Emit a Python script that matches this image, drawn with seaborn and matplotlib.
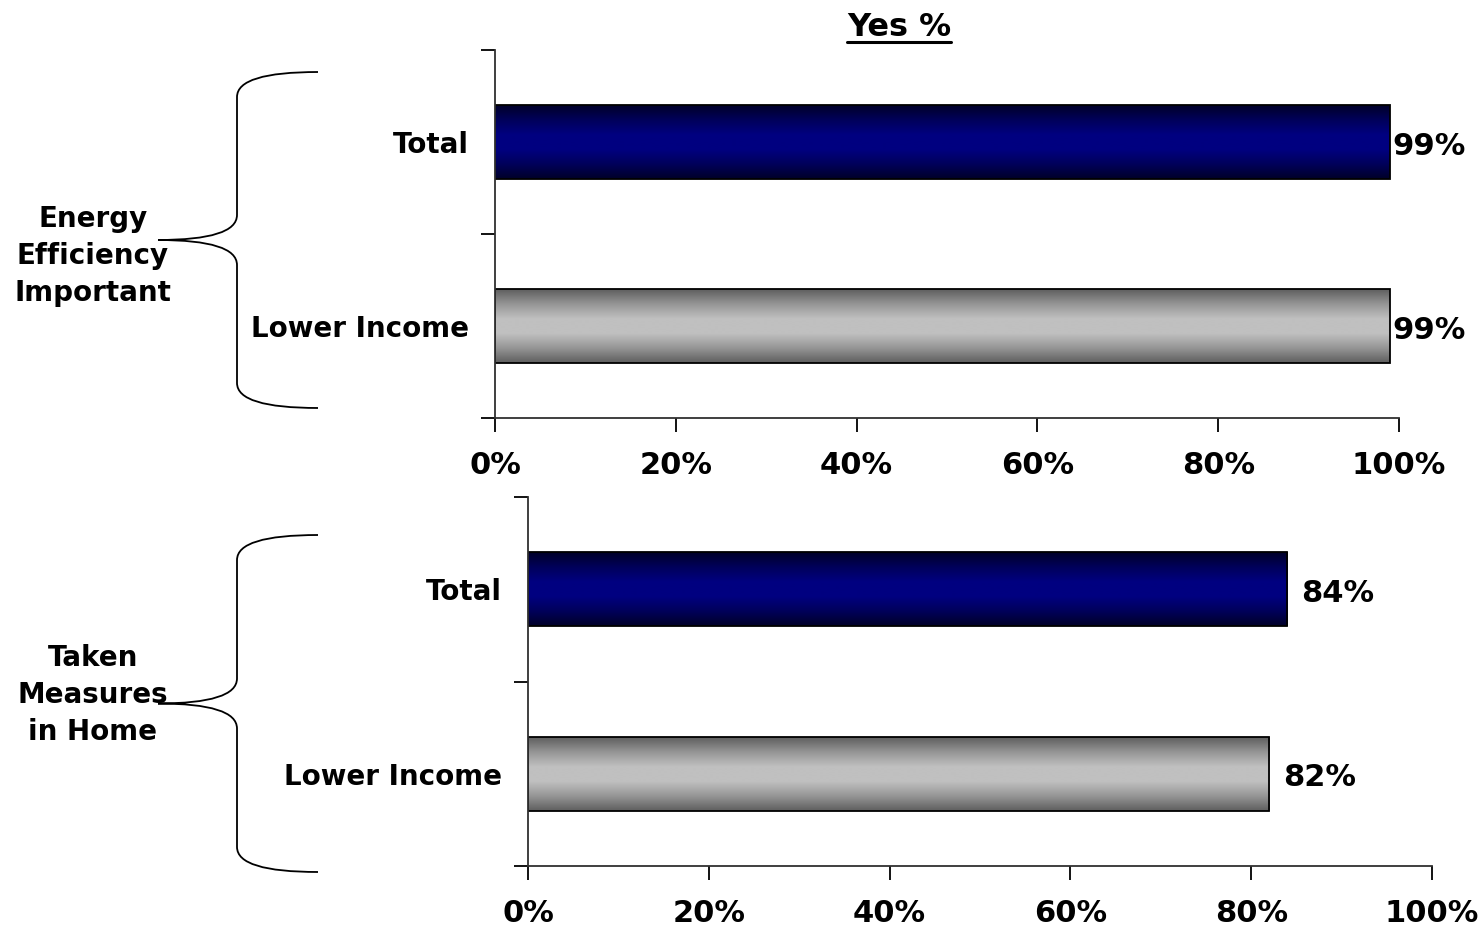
import numpy as np
import pandas as pd
import matplotlib
matplotlib.use("Agg")
import matplotlib.pyplot as plt
import seaborn as sns
from matplotlib.colors import LinearSegmentedColormap
from matplotlib.path import Path
from matplotlib.patches import PathPatch
from matplotlib.lines import Line2D

# ---- data -------------------------------------------------------------
categories = ["Total", "Lower Income"]
energy_important = [99, 99]
taken_measures = [84, 82]
group_titles = ["Energy\nEfficiency\nImportant", "Taken\nMeasures\nin Home"]
x_ticks = [0, 20, 40, 60, 80, 100]
x_tick_labels = ["0%", "20%", "40%", "60%", "80%", "100%"]
chart_title = "Yes %"

# ---- styling ----------------------------------------------------------
sns.set_style("ticks")
plt.rcParams["font.family"] = ["DejaVu Sans"]
plt.rcParams["font.weight"] = "bold"
plt.rcParams["text.color"] = "black"
plt.rcParams["xtick.color"] = "black"
plt.rcParams["ytick.color"] = "black"
plt.rcParams["xtick.labelcolor"] = "black"
plt.rcParams["ytick.labelcolor"] = "black"

W, H = 1482, 926
fig = plt.figure(figsize=(W / 100, H / 100), dpi=100)

base_colors = {"Total": "#000080", "Lower Income": "#c0c0c0"}
gradients = {
    "Total": LinearSegmentedColormap.from_list(
        "navy_grad",
        [(0.0, "#000028"), (0.2, "#00005a"), (0.4, "#000080"),
         (0.6, "#000080"), (0.8, "#00005a"), (1.0, "#000028")]),
    "Lower Income": LinearSegmentedColormap.from_list(
        "gray_grad",
        [(0.0, "#5e5e5e"), (0.2, "#959595"), (0.4, "#c0c0c0"),
         (0.6, "#c0c0c0"), (0.8, "#959595"), (1.0, "#5e5e5e")]),
}

panels = [
    # left, bottom, width, height (figure fractions), values, label padding
    ((495 / W, 1 - 418 / H, 904 / W, 368 / H), energy_important, 2),
    ((528 / W, 1 - 866 / H, 904 / W, 369 / H), taken_measures, 10),
]

axes = []
for (rect, values, lpad) in panels:
    ax = fig.add_axes(rect)
    df = pd.DataFrame({"category": categories, "value": values})
    sns.barplot(data=df, x="value", y="category", hue="category",
                palette=base_colors, orient="h", width=0.4,
                edgecolor="black", linewidth=1.3, dodge=False,
                legend=False, ax=ax)

    ax.set_xlim(0, 100)
    ax.set_ylim(1.5, -0.5)
    xl, yl = ax.get_xlim(), ax.get_ylim()

    # vertical shading inside every bar
    grad = np.linspace(0, 1, 256).reshape(-1, 1)
    for cont, cat in zip(ax.containers, categories):
        for patch in cont.patches:
            x0, y0 = patch.get_x(), patch.get_y()
            w, h = patch.get_width(), patch.get_height()
            if w == 0:
                continue
            im = ax.imshow(grad, cmap=gradients[cat], aspect="auto",
                           extent=[x0, x0 + w, y0 + h, y0],
                           interpolation="bilinear", zorder=patch.get_zorder() - 0.1)
            im.set_clip_path(patch)
            patch.set_facecolor("none")
        labels = ax.bar_label(cont, labels=[f"{v:.0f}%" for v in cont.datavalues],
                              padding=lpad, fontsize=22, fontweight="bold",
                              color="black")
        # nudge the value labels slightly below the bar centre line
        for t in labels:
            ox, oy = t.xyann
            t.xyann = (ox, oy - 3)
    ax.set_xlim(xl)
    ax.set_ylim(yl)
    ax.set_aspect("auto")

    ax.set_xlabel("")
    ax.set_ylabel("")
    ax.set_xticks(x_ticks)
    ax.set_xticklabels(x_tick_labels, fontsize=22, fontweight="bold")
    ax.tick_params(axis="x", direction="out", length=10, width=1.3,
                   color="black", pad=14)
    ax.tick_params(axis="y", which="major", length=0, pad=19, labelsize=20)
    for lab in ax.get_yticklabels():
        lab.set_fontweight("bold")
    ax.set_yticks([-0.5, 0.5, 1.5], minor=True)
    ax.tick_params(axis="y", which="minor", direction="out", length=10,
                   width=1.3, color="black")
    for side in ["top", "right"]:
        ax.spines[side].set_visible(False)
    for side in ["left", "bottom"]:
        ax.spines[side].set_color("#303030")
        ax.spines[side].set_linewidth(1.3)
    axes.append(ax)


# ---- curly braces with group titles ----------------------------------
def brace(y_top, y_bot, x_right=318, x_mid=237, x_tip=158, r=25):
    y_c = (y_top + y_bot) / 2
    pts = [
        (x_right, y_top),
        (x_mid, y_top), (x_mid, y_top + r),
        (x_mid, y_c - r),
        (x_mid, y_c), (x_tip, y_c),
        (x_mid, y_c), (x_mid, y_c + r),
        (x_mid, y_bot - r),
        (x_mid, y_bot), (x_right, y_bot),
    ]
    codes = [Path.MOVETO, Path.CURVE3, Path.CURVE3, Path.LINETO,
             Path.CURVE3, Path.CURVE3, Path.CURVE3, Path.CURVE3,
             Path.LINETO, Path.CURVE3, Path.CURVE3]
    verts = [(x / W, 1 - y / H) for x, y in pts]
    fig.add_artist(PathPatch(Path(verts, codes), transform=fig.transFigure,
                             fill=False, edgecolor="black", linewidth=1.3))


brace(72, 408)
brace(535, 872)

fig.text(93 / W, 1 - 256 / H, group_titles[0], ha="center", va="center",
         fontsize=20, fontweight="bold", linespacing=1.4, color="black")
fig.text(93 / W, 1 - 695 / H, group_titles[1], ha="center", va="center",
         fontsize=20, fontweight="bold", linespacing=1.4, color="black")

# ---- underlined heading -----------------------------------------------
title = fig.text(899 / W, 1 - 27 / H, chart_title, ha="center", va="center",
                 fontsize=23, fontweight="bold", color="black")
fig.canvas.draw()
bb = title.get_window_extent()
uy = (bb.y0 + 1) / H
fig.add_artist(Line2D([bb.x0 / W, bb.x1 / W], [uy, uy],
                      transform=fig.transFigure, color="black", linewidth=2.2))

fig.savefig("out.png", dpi=100)
